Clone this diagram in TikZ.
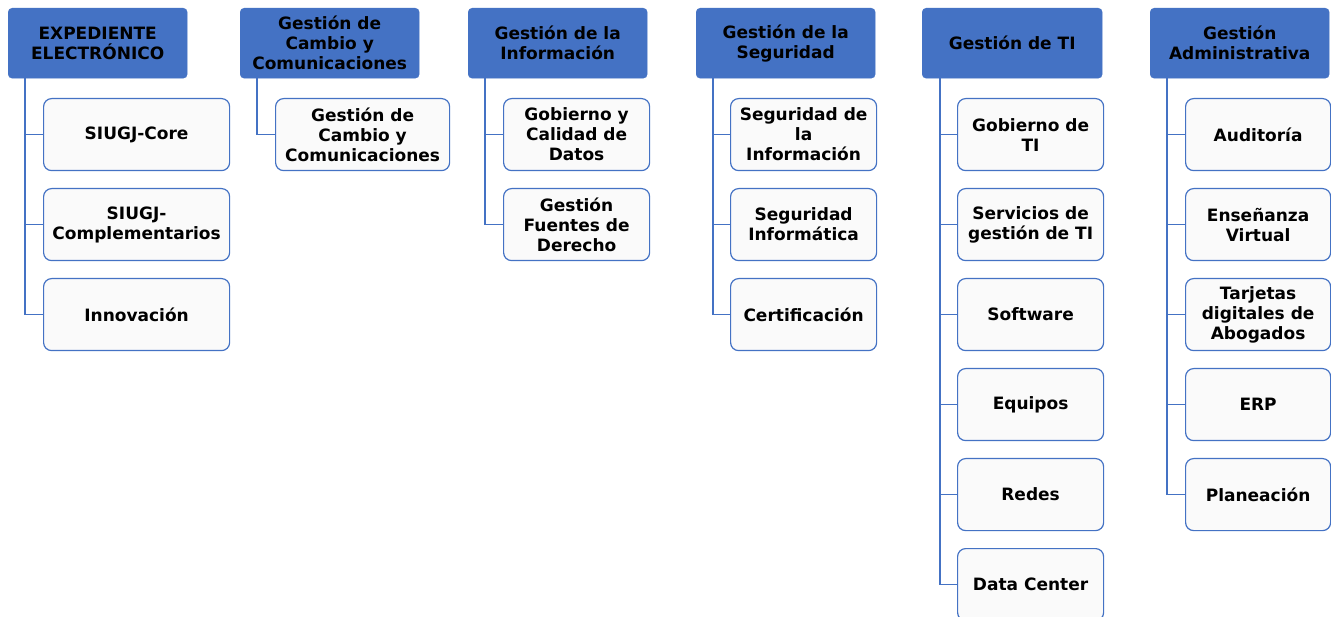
\documentclass[tikz,border=0pt]{standalone}
\usepackage{fontspec}
\setmainfont{DejaVu Sans}
\definecolor{hdblue}{HTML}{4472C4}
\definecolor{boxgray}{HTML}{FAFAFA}
\tikzset{
  head/.style={rectangle, rounded corners=4pt, fill=hdblue, draw=hdblue, anchor=north west,
    minimum width=179pt, minimum height=70pt, inner sep=0pt, align=center,
    font=\bfseries\fontsize{17}{20}\selectfont},
  item/.style={rectangle, rounded corners=8pt, fill=boxgray, draw=hdblue, line width=1.2pt,
    anchor=north west, minimum width=146pt, minimum height=72pt, inner sep=0pt, align=center,
    font=\bfseries\fontsize{17}{20}\selectfont},
  link/.style={draw=hdblue, line width=1.5pt}
}
\begin{document}
\begin{tikzpicture}[x=1pt,y=-1pt]
		\clip (0,0) rectangle (1331,617);
		\fill[white] (0,0) rectangle (1331,617);
		% expediente
		\node[head] (h1) at (8,8) {EXPEDIENTE\\ELECTRÓNICO};
		\node[item, minimum width=186pt] (a1) at (43,98) {SIUGJ-Core};
		\node[item, minimum width=186pt] (a2) at (43,188) {SIUGJ-\\Complementarios};
		\node[item, minimum width=186pt] (a3) at (43,278) {Innovación};
		\foreach \c in {a1,a2,a3} \draw[link] ([xshift=17pt]h1.south west) |- (\c.west);
		% cambio
		\node[head] (h2) at (240,8) {Gestión de\\Cambio y\\Comunicaciones};
		\node[item, minimum width=174pt] (b1) at (275,98) {Gestión de\\Cambio y\\Comunicaciones};
		\draw[link] ([xshift=17pt]h2.south west) |- (b1.west);
		% informacion
		\node[head] (h3) at (468,8) {Gestión de la\\Información};
		\node[item] (c1) at (503,98) {Gobierno y\\Calidad de\\Datos};
		\node[item] (c2) at (503,188) {Gestión\\Fuentes de\\Derecho};
		\foreach \c in {c1,c2} \draw[link] ([xshift=17pt]h3.south west) |- (\c.west);
		% seguridad
		\node[head] (h4) at (696,8) {Gestión de la\\Seguridad};
		\node[item] (d1) at (730,98) {Seguridad de\\la\\Información};
		\node[item] (d2) at (730,188) {Seguridad\\Informática};
		\node[item] (d3) at (730,278) {Certificación};
		\foreach \c in {d1,d2,d3} \draw[link] ([xshift=17pt]h4.south west) |- (\c.west);
		% TI
		\node[head, minimum width=180pt] (h5) at (922,8) {Gestión de TI};
		\node[item] (e1) at (957,98) {Gobierno de\\TI};
		\node[item] (e2) at (957,188) {Servicios de\\gestión de TI};
		\node[item] (e3) at (957,278) {Software};
		\node[item] (e4) at (957,368) {Equipos};
		\node[item] (e5) at (957,458) {Redes};
		\node[item] (e6) at (957,548) {Data Center};
		\foreach \c in {e1,e2,e3,e4,e5,e6} \draw[link] ([xshift=18pt]h5.south west) |- (\c.west);
		% administrativa
		\node[head] (h6) at (1150,8) {Gestión\\Administrativa};
		\node[item, minimum width=145pt] (f1) at (1185,98) {Auditoría};
		\node[item, minimum width=145pt] (f2) at (1185,188) {Enseñanza\\Virtual};
		\node[item, minimum width=145pt] (f3) at (1185,278) {Tarjetas\\digitales de\\Abogados};
		\node[item, minimum width=145pt] (f4) at (1185,368) {ERP};
		\node[item, minimum width=145pt] (f5) at (1185,458) {Planeación};
		\foreach \c in {f1,f2,f3,f4,f5} \draw[link] ([xshift=17pt]h6.south west) |- (\c.west);
\end{tikzpicture}
\end{document}
